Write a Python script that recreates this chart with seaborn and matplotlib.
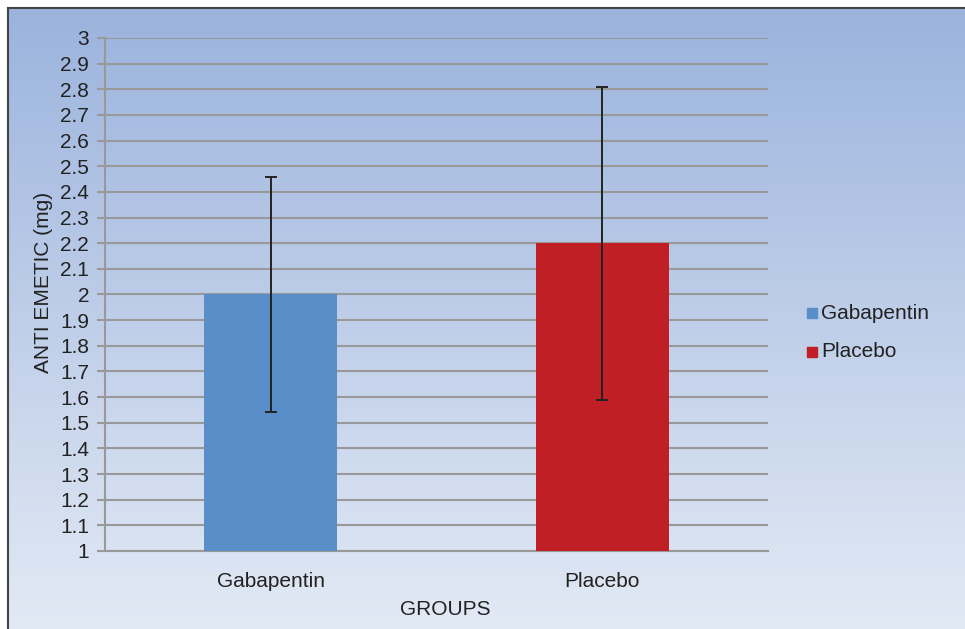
import numpy as np
import pandas as pd
import matplotlib
matplotlib.use("Agg")
import matplotlib.pyplot as plt
import seaborn as sns

groups = ["Gabapentin", "Placebo"]
means = [2.0, 2.2]
sds = [0.46, 0.61]
colors = ["#5a8ec9", "#c01f26"]

df = pd.DataFrame({"group": groups, "mean": means, "sd": sds})

sns.set_style("white")
plt.rcParams["font.family"] = ["Liberation Sans", "DejaVu Sans"]

fig = plt.figure(figsize=(9.65, 6.29), dpi=100)

# gradient background with frame
bg = fig.add_axes([8 / 965, -0.01, 1.0, 1.01 - 8 / 629], zorder=-10)
grad = np.linspace(0, 1, 256).reshape(-1, 1)
top = np.array([0x9b, 0xb3, 0xdd]) / 255
bot = np.array([0xe3, 0xea, 0xf5]) / 255
img = top + (bot - top) * grad[:, :, None]
bg.imshow(img, aspect="auto", extent=[0, 1, 0, 1])
bg.set_xticks([])
bg.set_yticks([])
for side in ["right", "bottom"]:
    bg.spines[side].set_visible(False)
for side in ["top", "left"]:
    bg.spines[side].set_color("#444444")
    bg.spines[side].set_linewidth(1.5)

ax = fig.add_axes([105 / 965, 1 - 551 / 629, (768 - 105) / 965, (551 - 38) / 629])
ax.patch.set_alpha(0)

sns.barplot(data=df, x="group", y="mean", hue="group", palette=colors,
            width=0.4, dodge=False, errorbar=None, legend=False, ax=ax,
            zorder=3, saturation=1, linewidth=0, edgecolor="none")
ax.errorbar(range(len(groups)), df["mean"], yerr=df["sd"], fmt="none",
            ecolor="#222222", elinewidth=1.4, capsize=4, capthick=1.4, zorder=4)

ticks = np.round(np.arange(1, 3.01, 0.1), 1)
ax.set_ylim(1, 3)
ax.set_yticks(ticks)
ax.set_yticklabels([f"{v:g}" for v in ticks])
ax.yaxis.grid(True, color="#999999", linewidth=1.5, zorder=0)
ax.set_axisbelow(True)
for side in ["top", "right"]:
    ax.spines[side].set_visible(False)
for side in ["left", "bottom"]:
    ax.spines[side].set_color("#999999")
    ax.spines[side].set_linewidth(1.5)
fs = 15
ax.tick_params(axis="y", length=6, width=1.5, color="#999999",
               labelsize=fs, labelcolor="#222222", pad=5.5, left=True)
ax.tick_params(axis="x", length=0, labelsize=fs, labelcolor="#222222", pad=15)
ax.set_xlabel("GROUPS", fontsize=fs, color="#222222")
ax.set_ylabel("ANTI EMETIC (mg)", fontsize=fs, color="#222222")
ax.xaxis.set_label_coords(0.513, -0.095)
ax.yaxis.set_label_coords(-0.078, 0.524)

# legend
for g, c in zip(groups, colors):
    ax.scatter([], [], marker="s", s=50, color=c, label=g)
ax.legend(loc="center left", bbox_to_anchor=(1.022, 0.426), frameon=False,
          fontsize=fs, handletextpad=-0.05, labelspacing=0.95, handlelength=1,
          labelcolor="#222222")
ax.set_xlim(-0.5, 1.5)

fig.savefig("out.png", dpi=100)
